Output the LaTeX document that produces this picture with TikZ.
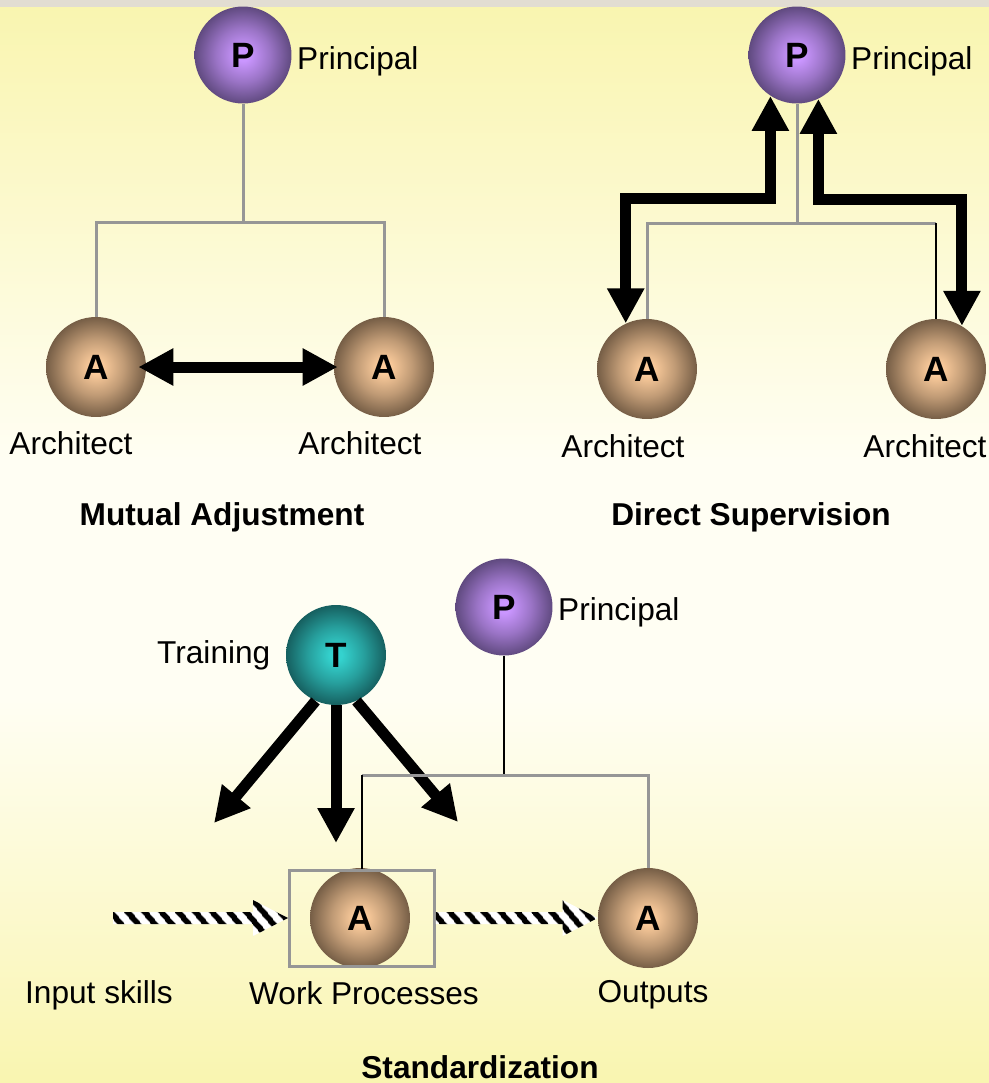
\documentclass[tikz,border=0pt]{standalone}
\usepackage{fontspec}
\setmainfont{Liberation Sans}
\usetikzlibrary{arrows.meta,positioning,calc,patterns.meta}

\definecolor{bgyellow}{RGB}{249,245,176}
\definecolor{bgcream}{RGB}{255,254,243}
\definecolor{bgband}{RGB}{226,221,210}
\definecolor{conngray}{RGB}{150,150,150}
\definecolor{brownin}{RGB}{252,204,156}
\definecolor{brownout}{RGB}{118,94,70}
\definecolor{purplein}{RGB}{202,150,255}
\definecolor{purpleout}{RGB}{96,74,128}
\definecolor{tealin}{RGB}{52,210,206}
\definecolor{tealout}{RGB}{22,96,96}

\pgfdeclareradialshading{ballbrown}{\pgfpoint{0bp}{0bp}}{color(0bp)=(brownin); color(3bp)=(brownin); color(14bp)=(brownin!55!brownout); color(25bp)=(brownout); color(50bp)=(brownout)}
\pgfdeclareradialshading{ballpurple}{\pgfpoint{0bp}{0bp}}{color(0bp)=(purplein); color(3bp)=(purplein); color(14bp)=(purplein!55!purpleout); color(25bp)=(purpleout); color(50bp)=(purpleout)}
\pgfdeclareradialshading{ballteal}{\pgfpoint{0bp}{0bp}}{color(0bp)=(tealin); color(3bp)=(tealin); color(14bp)=(tealin!55!tealout); color(25bp)=(tealout); color(50bp)=(tealout)}

% striped arrow: #1 start, #2 tip (same height)
\newcommand{\hatcharrow}[2]{%
  \path[hatch] ($(#1)+(0,-6)$) -- ($(#2)+(-35,-6)$) -- ($(#2)+(-35,-18)$) -- (#2)
    -- ($(#2)+(-35,18)$) -- ($(#2)+(-35,6)$) -- ($(#1)+(0,6)$) -- cycle;}

\begin{document}
\begin{tikzpicture}[x=0.02cm, y=-0.02cm,
    ball/.style={circle, minimum size=2cm, inner sep=0pt, shade, font=\fontsize{20}{20}\selectfont\bfseries},
    arch/.style={ball, shading=ballbrown},
    prin/.style={ball, minimum size=1.94cm, shading=ballpurple},
    train/.style={ball, shading=ballteal},
    lbl/.style={inner sep=0pt, font=\fontsize{18}{20}\selectfont},
    title/.style={lbl, font=\fontsize{18}{20}\selectfont\bfseries},
    grayline/.style={draw=conngray, line width=0.06cm},
    thinline/.style={draw=black, line width=0.035cm},
    fatarrow/.style={line width=0.22cm, -{Triangle[length=0.7cm,width=0.7cm]}},
    twoway/.style={line width=0.22cm, {Triangle[length=0.7cm,width=0.7cm]}-{Triangle[length=0.7cm,width=0.7cm]}},
    hatch/.style={preaction={fill=white}, pattern={Lines[angle=-50,distance=0.26cm,line width=0.12cm]}, pattern color=black},
    wpbox/.style={draw=conngray, line width=0.06cm, minimum width=2.9cm, minimum height=1.92cm}]

  % background
  \fill[bgband] (0,0) rectangle (989,7);
  \shade[top color=bgyellow, bottom color=bgcream] (0,7) rectangle (989,460);
  \fill[bgcream] (0,460) rectangle (989,700);
  \shade[top color=bgcream, bottom color=bgyellow] (0,700) rectangle (989,1083);
  \useasboundingbox (0,0) rectangle (989,1083);

  % mutual adjustment
  \node[prin] (pL) at (243,55) {P};
  \node[lbl, right=0.1cm of pL, yshift=-0.12cm] (pLtxt) {Principal};
  \node[arch] (a1) at (96,367) {A};
  \node[arch] (a2) at (384,367) {A};
  \node[lbl] (a1txt) at (71,443) {Architect};
  \node[lbl] (a2txt) at (360,443) {Architect};
  \node[title] (mutual) at (222,517) {Mutual Adjustment};
  \coordinate (jL) at (243,222);
  \draw[grayline] (pL.south) -- (jL);
  \draw[grayline] (a1.north) |- (jL) -| (a2.north);
  \draw[twoway] ([xshift=-0.16cm]a1.east) -- ([xshift=0.08cm]a2.west);

  % direct supervision
  \node[prin] (pR) at (797,55) {P};
  \node[lbl, right=0.1cm of pR, yshift=-0.12cm] (pRtxt) {Principal};
  \node[arch] (a3) at (647,369) {A};
  \node[arch] (a4) at (936,369) {A};
  \node[lbl] (a3txt) at (623,446) {Architect};
  \node[lbl] (a4txt) at (925,446) {Architect};
  \node[title] (direct) at (751,517) {Direct Supervision};
  \coordinate (jR) at (797,223);
  \draw[grayline] (pR.south) -- (jR);
  \draw[grayline] (a3.north) |- (jR) -- (a4.north |- jR);
  \draw[thinline] (a4.north |- jR) -- (a4.north);
  \draw[twoway] (a3.115) -- ++(0,-125) -| (pR.237);
  \draw[twoway] (pR.296) -- ++(0,101) -| (a4.59);

  % standardization
  \node[prin] (pS) at (504,607) {P};
  \node[lbl, right=0.1cm of pS, yshift=-0.1cm] (pStxt) {Principal};
  \node[train] (tr) at (336,655) {T};
  \node[lbl, left=0.3cm of tr] (trtxt) {Training};
  \node[arch] (a5) at (360,918) {A};
  \node[wpbox] (wp) at (362,918) {};
  \node[arch] (a6) at (648,918) {A};
  \node[lbl] (intxt) at (99,995) {Input skills};
  \node[lbl] (wptxt) at (364,993) {Work Processes};
  \node[lbl] (outtxt) at (653,995) {Outputs};
  \node[title] (std) at (480,1067) {Standardization};

  \coordinate (tipL) at (214,823);
  \coordinate (tipM) at (336,843);
  \coordinate (tipR) at (458,822);
  \draw[fatarrow] (tr.246) -- (tipL);
  \draw[fatarrow] (tr.south) -- (tipM);
  \draw[fatarrow] (tr.294) -- (tipR);

  \coordinate (jS) at (504,775);
  \draw[thinline] (pS.south) -- (jS);
  \draw[grayline] (wp.north |- jS) -- (a6.north |- jS) -- (a6.north);
  \draw[thinline] (wp.north |- jS) -- (wp.north);

  \coordinate (inskill) at (113,918);
  \hatcharrow{inskill}{wp.west}
  \hatcharrow{wp.east}{a6.west}
\end{tikzpicture}
\end{document}
